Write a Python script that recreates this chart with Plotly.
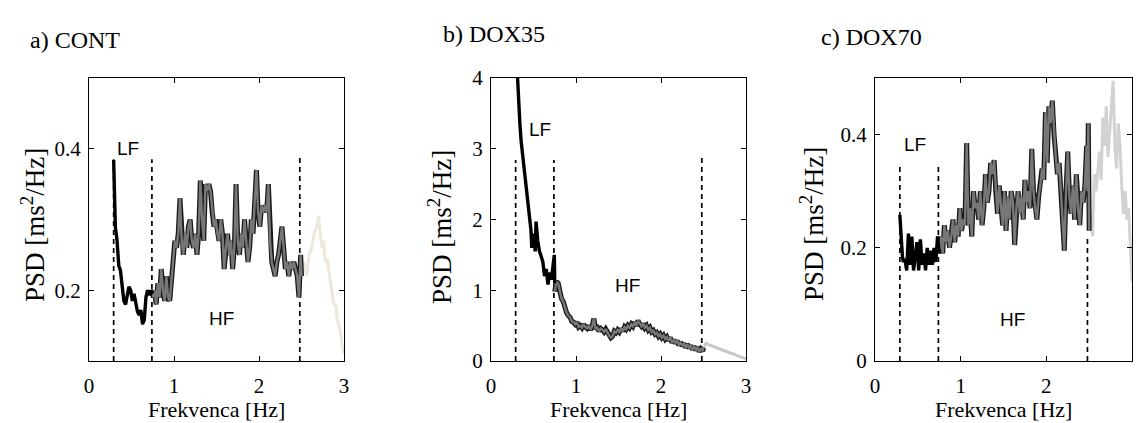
import plotly.graph_objects as go

# ---------------- DATA ----------------
# Panel a) CONT
a_lf_f = [0.29, 0.30, 0.31, 0.33, 0.35, 0.37, 0.39, 0.41, 0.43, 0.45, 0.47, 0.49, 0.51, 0.53,
          0.55, 0.57, 0.59, 0.61, 0.63, 0.65, 0.67, 0.69, 0.71, 0.73, 0.75]
a_lf_p = [0.384, 0.33, 0.29, 0.27, 0.235, 0.228, 0.20, 0.185, 0.180, 0.195, 0.205, 0.200, 0.185, 0.195,
          0.180, 0.170, 0.165, 0.172, 0.152, 0.158, 0.190, 0.200, 0.193, 0.200, 0.195]
a_hf_f = [0.75, 0.77, 0.79, 0.81, 0.83, 0.85, 0.87, 0.89, 0.91, 0.93, 0.95, 0.97, 0.99, 1.01, 1.03,
          1.05, 1.07, 1.09, 1.11, 1.13, 1.15, 1.17, 1.19, 1.21, 1.23, 1.25, 1.27, 1.29, 1.31, 1.33,
          1.35, 1.37, 1.39, 1.41, 1.43, 1.45, 1.47, 1.49, 1.51, 1.53, 1.55, 1.57, 1.59, 1.61, 1.63,
          1.65, 1.67, 1.69, 1.71, 1.73, 1.75, 1.77, 1.79, 1.81, 1.83, 1.85, 1.87, 1.89, 1.91, 1.93,
          1.95, 1.97, 1.99, 2.01, 2.03, 2.05, 2.07, 2.09, 2.11, 2.13, 2.15, 2.17, 2.19, 2.21, 2.23,
          2.25, 2.27, 2.29, 2.31, 2.33, 2.35, 2.37, 2.39, 2.41, 2.43, 2.45, 2.47, 2.49, 2.50]
a_hf_p = [0.19, 0.20, 0.18, 0.21, 0.19, 0.23, 0.20, 0.185, 0.22, 0.19, 0.185, 0.21, 0.24, 0.27, 0.26,
          0.28, 0.33, 0.27, 0.25, 0.28, 0.26, 0.29, 0.30, 0.27, 0.26, 0.28, 0.25, 0.28, 0.355, 0.30,
          0.27, 0.35, 0.34, 0.35, 0.34, 0.31, 0.29, 0.30, 0.28, 0.27, 0.30, 0.28, 0.23, 0.26, 0.28,
          0.25, 0.27, 0.23, 0.26, 0.35, 0.27, 0.25, 0.28, 0.26, 0.30, 0.27, 0.24, 0.26, 0.30, 0.28,
          0.32, 0.37, 0.31, 0.29, 0.32, 0.31, 0.32, 0.31, 0.35, 0.27, 0.24, 0.23, 0.22, 0.24, 0.25,
          0.27, 0.29, 0.26, 0.23, 0.24, 0.22, 0.24, 0.23, 0.24, 0.23, 0.22, 0.19, 0.25, 0.22]
a_ext_f = [2.50, 2.53, 2.56, 2.59, 2.62, 2.65, 2.68, 2.70, 2.72, 2.74, 2.76, 2.78, 2.80, 2.82,
           2.84, 2.86, 2.88, 2.90, 2.92, 2.94, 2.96, 2.98, 3.00]
a_ext_p = [0.22, 0.24, 0.22, 0.25, 0.26, 0.28, 0.29, 0.305, 0.28, 0.26, 0.27, 0.24, 0.245, 0.23,
           0.21, 0.20, 0.18, 0.18, 0.16, 0.15, 0.14, 0.12, 0.11]

# Panel b) DOX35
b_lf_f = [0.30, 0.32, 0.34, 0.355, 0.37, 0.385, 0.40, 0.42, 0.44, 0.46, 0.47, 0.48, 0.50, 0.52,
          0.53, 0.55, 0.57, 0.59, 0.61, 0.63, 0.65, 0.67, 0.69, 0.71, 0.73, 0.745, 0.75]
b_lf_p = [4.3, 3.7, 3.35, 3.1, 2.95, 2.75, 2.62, 2.45, 2.22, 2.0, 1.85, 1.6, 1.8, 1.55,
          1.97, 1.7, 1.55, 1.48, 1.4, 1.2, 1.3, 1.08, 1.25, 1.15, 1.4, 1.5, 1.1]
b_hf_f = [0.75, 0.77, 0.79, 0.81, 0.83, 0.85, 0.87, 0.89, 0.91, 0.93, 0.95, 0.97, 0.99, 1.01, 1.03,
          1.05, 1.07, 1.09, 1.11, 1.13, 1.15, 1.17, 1.19, 1.21, 1.23, 1.25, 1.27, 1.29, 1.31, 1.33,
          1.35, 1.37, 1.39, 1.41, 1.43, 1.45, 1.47, 1.49, 1.51, 1.53, 1.55, 1.57, 1.59, 1.61, 1.63,
          1.65, 1.67, 1.69, 1.71, 1.73, 1.75, 1.77, 1.79, 1.81, 1.83, 1.85, 1.87, 1.89, 1.91, 1.93,
          1.95, 1.97, 1.99, 2.01, 2.03, 2.05, 2.07, 2.09, 2.11, 2.13, 2.15, 2.17, 2.19, 2.21, 2.23,
          2.25, 2.27, 2.29, 2.31, 2.33, 2.35, 2.37, 2.39, 2.41, 2.43, 2.45, 2.47, 2.49, 2.50]
b_hf_p = [0.98, 1.12, 1.10, 0.98, 0.88, 0.84, 0.75, 0.68, 0.64, 0.62, 0.56, 0.55, 0.52, 0.55, 0.48,
          0.50, 0.47, 0.52, 0.48, 0.46, 0.50, 0.44, 0.49, 0.60, 0.45, 0.47, 0.42, 0.46, 0.44, 0.41,
          0.45, 0.40, 0.36, 0.33, 0.35, 0.42, 0.40, 0.44, 0.41, 0.46, 0.42, 0.48, 0.45, 0.50, 0.47,
          0.52, 0.49, 0.55, 0.50, 0.57, 0.52, 0.49, 0.53, 0.47, 0.50, 0.44, 0.47, 0.41, 0.43, 0.38,
          0.40, 0.35, 0.38, 0.33, 0.36, 0.31, 0.34, 0.29, 0.33, 0.26, 0.30, 0.25, 0.29, 0.22, 0.27,
          0.21, 0.25, 0.19, 0.24, 0.18, 0.22, 0.16, 0.21, 0.15, 0.20, 0.13, 0.17, 0.14, 0.19]
b_ext_f = [2.50, 2.53, 2.56, 2.60, 2.65, 2.70, 2.75, 2.80, 2.85, 2.90, 2.95, 3.00]
b_ext_p = [0.19, 0.25, 0.23, 0.21, 0.19, 0.17, 0.14, 0.12, 0.10, 0.07, 0.05, 0.03]

# Panel c) DOX70
c_lf_f = [0.29, 0.30, 0.31, 0.32, 0.33, 0.35, 0.37, 0.39, 0.41, 0.43, 0.45, 0.47, 0.49, 0.51,
          0.53, 0.55, 0.57, 0.59, 0.61, 0.63, 0.65, 0.67, 0.69, 0.71, 0.73, 0.75]
c_lf_p = [0.258, 0.23, 0.20, 0.185, 0.175, 0.18, 0.16, 0.225, 0.17, 0.22, 0.16, 0.18, 0.21, 0.16,
          0.215, 0.17, 0.19, 0.16, 0.20, 0.17, 0.195, 0.17, 0.20, 0.175, 0.22, 0.19]
c_hf_f = [0.75, 0.77, 0.79, 0.81, 0.83, 0.85, 0.87, 0.89, 0.91, 0.93, 0.95, 0.97, 0.99, 1.01, 1.03,
          1.05, 1.07, 1.09, 1.11, 1.13, 1.15, 1.17, 1.19, 1.21, 1.23, 1.25, 1.27, 1.29, 1.31, 1.33,
          1.35, 1.37, 1.39, 1.41, 1.43, 1.45, 1.47, 1.49, 1.51, 1.53, 1.55, 1.57, 1.59, 1.61, 1.63,
          1.65, 1.67, 1.69, 1.71, 1.73, 1.75, 1.77, 1.79, 1.81, 1.83, 1.85, 1.87, 1.89, 1.91, 1.93,
          1.95, 1.97, 1.99, 2.01, 2.03, 2.05, 2.07, 2.09, 2.11, 2.13, 2.15, 2.17, 2.19, 2.21, 2.23,
          2.25, 2.27, 2.29, 2.31, 2.33, 2.35, 2.37, 2.39, 2.41, 2.43, 2.45, 2.47, 2.48, 2.49, 2.50]
c_hf_p = [0.19, 0.22, 0.19, 0.24, 0.21, 0.23, 0.20, 0.22, 0.25, 0.21, 0.24, 0.22, 0.27, 0.23, 0.25,
          0.24, 0.385, 0.24, 0.27, 0.22, 0.30, 0.27, 0.28, 0.25, 0.30, 0.24, 0.27, 0.33, 0.28, 0.30,
          0.35, 0.33, 0.355, 0.30, 0.26, 0.31, 0.28, 0.24, 0.30, 0.23, 0.29, 0.25, 0.30, 0.28, 0.205,
          0.27, 0.30, 0.26, 0.29, 0.25, 0.32, 0.28, 0.30, 0.27, 0.375, 0.30, 0.27, 0.25, 0.29, 0.31,
          0.34, 0.32, 0.44, 0.35, 0.45, 0.42, 0.46, 0.40, 0.36, 0.33, 0.35, 0.30, 0.25, 0.195, 0.30,
          0.37, 0.29, 0.26, 0.31, 0.25, 0.33, 0.27, 0.24, 0.30, 0.28, 0.31, 0.38, 0.30, 0.42, 0.23]
c_ext_f = [2.50, 2.52, 2.54, 2.56, 2.58, 2.60, 2.62, 2.64, 2.66, 2.68, 2.70, 2.72, 2.74, 2.76,
           2.78, 2.80, 2.82, 2.84, 2.86, 2.88, 2.90, 2.92, 2.94, 2.96, 2.98, 3.00]
c_ext_p = [0.23, 0.26, 0.22, 0.33, 0.30, 0.34, 0.37, 0.32, 0.43, 0.38, 0.45, 0.36, 0.40, 0.44,
           0.495, 0.38, 0.34, 0.42, 0.38, 0.31, 0.26, 0.30, 0.25, 0.27, 0.19, 0.14]

# band boundaries and dashed-line heights
band_edges = [0.29, 0.74, 2.48]
a_dash_top = [0.385, 0.385, 0.39]
b_dash_top = [2.84, 2.84, 2.87]
c_dash_top = [0.35, 0.35, 0.22]

titles = ["a) CONT", "b) DOX35", "c) DOX70"]
y_ranges = [[0.1, 0.5], [0, 4], [0, 0.5]]
y_ticks = [[0.2, 0.4], [0, 1, 2, 3, 4], [0, 0.2, 0.4]]
y_ticktext = [["0.2", "0.4"], ["0", "1", "2", "3", "4"], ["0", "0.2", "0.4"]]
x_ticks = [0, 1, 2, 3]
lf_pos = [(0.46, 0.40), (0.58, 3.27), (0.47, 0.382)]
hf_pos = [(1.56, 0.16), (1.61, 1.07), (1.60, 0.073)]
ext_colors = ["#ece8dc", "#c8c8c8", "#d2d2d2"]

# ---------------- FIGURE ----------------
W, H = 1137, 423
px_x = [(89, 344), (491, 746), (875, 1132)]
px_y = (78, 361)

fig = go.Figure()

panels = [
    (a_lf_f, a_lf_p, a_hf_f, a_hf_p, a_ext_f, a_ext_p, a_dash_top),
    (b_lf_f, b_lf_p, b_hf_f, b_hf_p, b_ext_f, b_ext_p, b_dash_top),
    (c_lf_f, c_lf_p, c_hf_f, c_hf_p, c_ext_f, c_ext_p, c_dash_top),
]

serif = "Liberation Serif"
sans = "Liberation Sans"

for i, (lf_f, lf_p, hf_f, hf_p, ex_f, ex_p, dtop) in enumerate(panels):
    n = "" if i == 0 else str(i + 1)
    xa, ya = "x" + n, "y" + n
    y0 = y_ranges[i][0]
    for xe, yt in zip(band_edges, dtop):
        fig.add_trace(go.Scatter(x=[xe, xe], y=[y0, yt], mode="lines",
                                 line=dict(color="black", width=1.7, dash="5px,4px"),
                                 xaxis=xa, yaxis=ya, showlegend=False, hoverinfo="skip"))
    fig.add_trace(go.Scatter(x=ex_f, y=ex_p, mode="lines",
                             line=dict(color=ext_colors[i], width=3),
                             xaxis=xa, yaxis=ya, showlegend=False))
    fig.add_trace(go.Scatter(x=hf_f, y=hf_p, mode="lines",
                             line=dict(color="#1a1a1a", width=5),
                             xaxis=xa, yaxis=ya, showlegend=False))
    fig.add_trace(go.Scatter(x=hf_f, y=hf_p, mode="lines",
                             line=dict(color="#777777", width=2.4),
                             xaxis=xa, yaxis=ya, showlegend=False))
    fig.add_trace(go.Scatter(x=lf_f, y=lf_p, mode="lines",
                             line=dict(color="black", width=3.4),
                             xaxis=xa, yaxis=ya, showlegend=False))

    x0p, x1p = px_x[i]
    axis_common = dict(showline=True, linecolor="black", linewidth=1.2, mirror="ticks",
                       ticks="inside", ticklen=5, tickcolor="black", showgrid=False,
                       zeroline=False, automargin=False,
                       tickfont=dict(family=serif, size=21, color="black"))
    fig.layout["xaxis" + n] = dict(axis_common, domain=[x0p / W, x1p / W], range=[0, 3],
                                   tickvals=x_ticks, anchor=ya, ticklabelstandoff=6)
    fig.layout["yaxis" + n] = dict(axis_common, domain=[1 - px_y[1] / H, 1 - px_y[0] / H],
                                   range=y_ranges[i], tickvals=y_ticks[i],
                                   ticktext=y_ticktext[i], anchor=xa, ticklabelstandoff=3)

    fig.add_annotation(x=lf_pos[i][0], y=lf_pos[i][1], xref=xa, yref=ya, text="LF",
                       xanchor="center", yanchor="middle",
                       showarrow=False, font=dict(family=sans, size=19, color="black"))
    fig.add_annotation(x=hf_pos[i][0], y=hf_pos[i][1], xref=xa, yref=ya, text="HF",
                       xanchor="center", yanchor="middle",
                       showarrow=False, font=dict(family=sans, size=19, color="black"))

    cx = (x0p + x1p) / 2
    fig.add_annotation(x=cx / W, y=1 - 409 / H, xref="paper", yref="paper",
                       xanchor="center", yanchor="middle",
                       text="Frekvenca [Hz]", showarrow=False,
                       font=dict(family=serif, size=22, color="black"))

for xpix, ypix in [(33, 225), (440, 227), (812, 224)]:
    fig.add_annotation(x=xpix / W, y=1 - ypix / H, xref="paper", yref="paper",
                       xanchor="center", yanchor="middle",
                       text="PSD [ms<sup>2</sup>/Hz]", textangle=-90, showarrow=False,
                       font=dict(family=serif, size=27, color="black"))

for (xpix, ypix), t in zip([(28, 40), (441, 34), (819, 37)], titles):
    fig.add_annotation(x=xpix / W, y=1 - ypix / H, xref="paper", yref="paper",
                       xanchor="left", yanchor="middle", text=t, showarrow=False,
                       font=dict(family=serif, size=24, color="black"))

fig.update_layout(template="none", width=W, height=H,
                  font=dict(family=serif, color="black"),
                  margin=dict(l=0, r=0, t=0, b=0, pad=0, autoexpand=False),
                  paper_bgcolor="white", plot_bgcolor="white", showlegend=False)

fig.write_html("out.html", config={"displayModeBar": False},
               post_script="document.body.style.margin='0';")
